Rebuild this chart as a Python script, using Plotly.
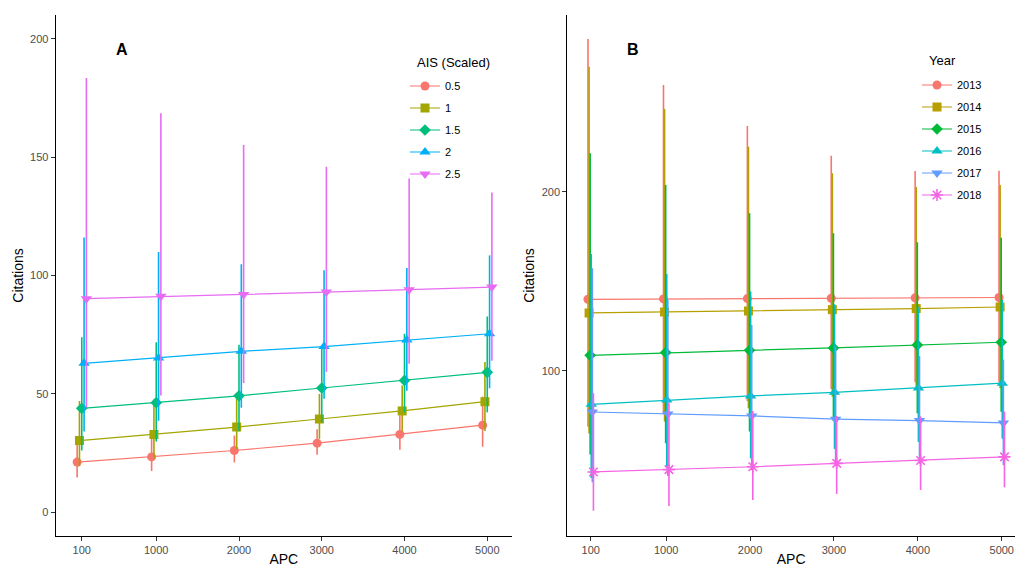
import plotly.graph_objects as go

apc = [100, 1000, 2000, 3000, 4000, 5000]

# Panel A: AIS (Scaled)
ais_levels = ["0.5", "1", "1.5", "2", "2.5"]
a_mean = [
    [21.2, 23.4, 26.1, 29.2, 32.9, 36.8],
    [30.3, 32.9, 36.0, 39.4, 42.8, 46.7],
    [43.9, 46.3, 49.2, 52.5, 55.7, 59.1],
    [62.9, 65.2, 68.0, 70.0, 72.8, 75.4],
    [90.2, 91.2, 92.0, 93.0, 94.0, 95.1],
]
a_low = [
    [14.7, 17.5, 21.0, 24.3, 26.4, 27.7],
    [19.5, 22.7, 26.7, 31.0, 34.2, 34.3],
    [26.1, 29.9, 34.2, 38.0, 42.2, 42.2],
    [34.1, 38.7, 44.2, 48.0, 51.3, 52.4],
    [44.4, 49.3, 54.6, 59.3, 62.7, 64.0],
]
a_high = [
    [30.5, 31.3, 32.4, 35.1, 41.0, 48.9],
    [47.0, 47.7, 48.6, 50.0, 53.5, 63.5],
    [73.9, 71.8, 70.8, 69.0, 75.4, 82.7],
    [116.0, 109.9, 104.7, 102.2, 103.2, 108.5],
    [183.4, 168.5, 155.1, 145.9, 141.0, 135.1],
]

# Panel B: Year
years = ["2013", "2014", "2015", "2016", "2017", "2018"]
b_mean = [
    [139.9, 140.1, 140.3, 140.5, 140.7, 140.9],
    [132.3, 132.8, 133.4, 134.1, 134.7, 135.6],
    [108.6, 110.1, 111.4, 112.7, 114.4, 115.9],
    [81.2, 83.6, 85.9, 87.9, 90.3, 93.0],
    [76.9, 75.8, 74.7, 72.9, 72.1, 70.8],
    [43.4, 44.7, 46.3, 48.2, 49.8, 51.8],
]
b_low = [
    [68.6, 75.6, 83.1, 89.7, 93.5, 93.7],
    [64.9, 71.6, 79.0, 85.5, 89.5, 90.2],
    [53.2, 59.5, 66.0, 71.8, 76.2, 77.1],
    [40.0, 45.4, 51.1, 56.3, 60.2, 62.0],
    [37.7, 41.2, 44.5, 46.7, 48.1, 47.2],
    [21.7, 24.4, 27.7, 31.1, 33.3, 34.8],
]
b_high = [
    [285.4, 259.7, 236.8, 220.2, 211.6, 211.8],
    [269.9, 246.3, 225.2, 210.3, 202.7, 203.8],
    [221.5, 203.8, 188.0, 176.8, 171.8, 174.3],
    [165.2, 154.0, 144.3, 137.1, 135.5, 139.5],
    [157.2, 139.5, 125.5, 113.7, 108.2, 106.2],
    [87.4, 81.9, 77.4, 74.7, 74.5, 77.1],
]

a_colors = ["#F8766D", "#A3A500", "#00BF7D", "#00B0F6", "#E76BF3"]
a_symbols = ["circle", "square", "diamond", "triangle-up", "triangle-down"]
b_colors = ["#F8766D", "#B79F00", "#00BA38", "#00BFC4", "#619CFF", "#F564E3"]
b_symbols = ["circle", "square", "diamond", "triangle-up", "triangle-down", "asterisk-open"]

W, H = 1015, 567
ML, MR, MT, MB = 0, 0, 15, 31
PH = H - MT - MB
FONT = "Liberation Sans, Arial, sans-serif"

fig = go.Figure()

def add_series(name, xs, mean, low, high, color, symbol, xaxis, yaxis, legend, group):
    msize = 10 if "triangle" in symbol else 9
    if symbol == "asterisk-open":
        msize = 10
    fig.add_trace(go.Scatter(
        x=xs, y=mean, name=name, mode="lines+markers",
        line=dict(color=color, width=1.2),
        marker=dict(symbol=symbol, size=msize, color=color,
                    line=dict(color=color, width=1.6 if symbol == "asterisk-open" else 0)),
        error_y=dict(type="data", symmetric=False,
                     array=[h - m for h, m in zip(high, mean)],
                     arrayminus=[m - l for m, l in zip(mean, low)],
                     color=color, thickness=1.6, width=0),
        xaxis=xaxis, yaxis=yaxis, legend=legend, legendgroup=group,
    ))

na = len(ais_levels)
for i, lev in enumerate(ais_levels):
    off = (i - (na - 1) / 2) * 28
    xs = [v + off for v in apc]
    add_series(lev, xs, a_mean[i], a_low[i], a_high[i], a_colors[i], a_symbols[i],
               "x", "y", "legend", "a" + lev)

nb = len(years)
for i, yr in enumerate(years):
    off = (i - (nb - 1) / 2) * 13
    xs = [v + off for v in apc]
    add_series(yr, xs, b_mean[i], b_low[i], b_high[i], b_colors[i], b_symbols[i],
               "x2", "y2", "legend2", "b" + yr)

def px_x(p):
    return p / W

def px_y(p):
    return (H - MB - p) / PH

axis_common = dict(
    showline=True, linecolor="black", linewidth=1.1,
    ticks="outside", ticklen=4, tickcolor="#333333", tickwidth=1,
    tickfont=dict(family=FONT, size=11, color="#4D4D4D"),
    showgrid=False, zeroline=False, mirror=False,
)

fig.update_layout(
    width=W, height=H,
    margin=dict(l=ML, r=MR, t=MT, b=MB),
    paper_bgcolor="white", plot_bgcolor="white",
    font=dict(family=FONT, color="black"),
    xaxis=dict(domain=[px_x(55.7), px_x(512)], range=[-215, 5299],
               tickvals=apc, ticktext=[str(v) for v in apc],
               title=dict(text="APC", font=dict(size=14), standoff=5),
               anchor="y", automargin=False, **axis_common),
    yaxis=dict(domain=[0, 1], range=[-10, 210],
               tickvals=[0, 50, 100, 150, 200],
               title=dict(text="Citations", font=dict(size=14), standoff=3),
               anchor="x", automargin=False, **axis_common),
    xaxis2=dict(domain=[px_x(567.3), 1.0], range=[-179, 5158],
                tickvals=apc, ticktext=[str(v) for v in apc],
                title=dict(text="APC", font=dict(size=14), standoff=5),
                anchor="y2", automargin=False, **axis_common),
    yaxis2=dict(domain=[0, 1], range=[7.6, 298.8],
                tickvals=[100, 200],
                title=dict(text="Citations", font=dict(size=14), standoff=3),
                anchor="x2", automargin=False, **axis_common),
    legend=dict(
        x=px_x(405), y=px_y(71.5), xanchor="left", yanchor="top",
        font=dict(family=FONT, size=11), bgcolor="rgba(0,0,0,0)",
        tracegroupgap=3, traceorder="grouped", itemwidth=30,
    ),
    legend2=dict(
        x=px_x(917), y=px_y(70.5), xanchor="left", yanchor="top",
        font=dict(family=FONT, size=11), bgcolor="rgba(0,0,0,0)",
        tracegroupgap=3, traceorder="grouped", itemwidth=30,
    ),
    annotations=[
        dict(text="<b>A</b>", x=px_x(121.5), y=px_y(50), xref="paper", yref="paper",
             xanchor="center", yanchor="middle",
             showarrow=False, font=dict(size=16, family=FONT, color="black")),
        dict(text="<b>B</b>", x=px_x(633.3), y=px_y(50), xref="paper", yref="paper",
             xanchor="center", yanchor="middle",
             showarrow=False, font=dict(size=16, family=FONT, color="black")),
        dict(text="AIS (Scaled)", x=px_x(415), y=px_y(62.7), xref="paper", yref="paper",
             xanchor="left", yanchor="middle",
             showarrow=False, font=dict(size=13, family=FONT, color="black")),
        dict(text="Year", x=px_x(927.3), y=px_y(60.7), xref="paper", yref="paper",
             xanchor="left", yanchor="middle",
             showarrow=False, font=dict(size=13, family=FONT, color="black")),
    ],
)

fig.write_html(
    "out.html",
    config={"displayModeBar": False},
    post_script="document.body.style.margin='0';document.body.style.overflow='hidden';",
)
